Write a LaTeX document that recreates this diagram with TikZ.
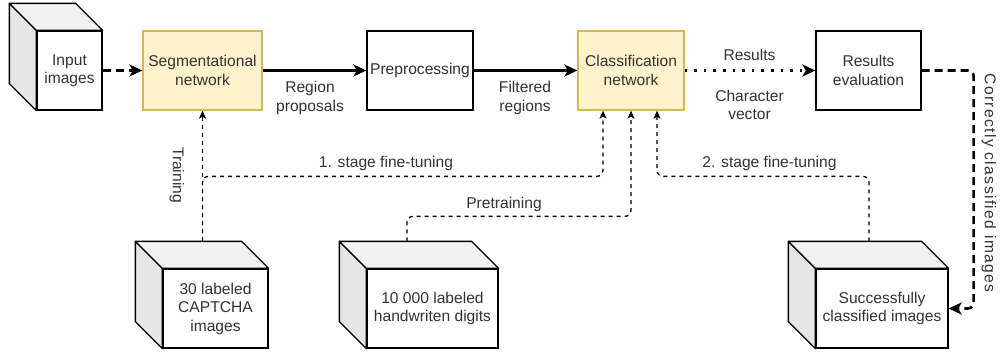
\documentclass[tikz,border=0pt]{standalone}
\usepackage{fontspec}
\setmainfont{Liberation Sans}
\usetikzlibrary{arrows.meta,calc}
\definecolor{netfill}{HTML}{FFF2CC}
\definecolor{netdraw}{HTML}{D6B656}
\definecolor{cubeside}{HTML}{E6E6E6}
\definecolor{cubetop}{HTML}{F2F2F2}
\definecolor{txt}{HTML}{333333}

\newcommand\cubefaces[1]{%
  \draw[line width=1.3pt, fill=cubeside, line join=round] (#1.north west) -- ++(-27,-27)
    -- ($(#1.south west)+(-27,-27)$) -- (#1.south west) -- cycle;
  \draw[line width=1.3pt, fill=cubetop, line join=round] (#1.north west) -- ++(-27,-27)
    -- ($(#1.north east)+(-27,-27)$) -- (#1.north east) -- cycle;
}

\begin{document}
\begin{tikzpicture}[
  x=1pt, y=-1pt,
  every node/.style = {font=\fontsize{15.6}{18.5}\selectfont, text=txt, align=center},
  block/.style = {draw, line width=1.3pt, fill=white, minimum height=79pt, inner sep=2pt},
  net/.style = {block, fill=netfill, draw=netdraw},
  flow/.style = {line width=2.6pt, -{Stealth[length=13pt,width=12pt,inset=3.5pt]}},
  feed/.style = {line width=1.3pt, dash pattern=on 4pt off 4pt, rounded corners=6pt,
                 -{Stealth[length=8pt,width=7pt,inset=2pt]}}
]
  \useasboundingbox (0,0) rectangle (1001,354);

  \node[block, minimum width=65pt] (input) at (69.5,70.5) {Input\\images};
  \node[net, minimum width=119pt] (seg) at (202.5,70.5) {Segmentational\\network};
  \node[block, minimum width=106pt] (prep) at (420,70.5) {Preprocessing};
  \node[net, minimum width=106pt] (class) at (631,70.5) {Classification\\network};
  \node[block, minimum width=105pt] (eval) at (868.5,70.5) {Results\\evaluation};
  \node[block, minimum width=105pt] (captcha) at (215.5,308.5) {30 labeled\\CAPTCHA\\images};
  \node[block, minimum width=131pt] (digits) at (432.5,308.5) {10 000 labeled\\handwriten digits};
  \node[block, minimum width=132pt] (success) at (882,308.5) {Successfully\\classified images};
  \cubefaces{input}
  \cubefaces{captcha}
  \cubefaces{digits}
  \cubefaces{success}
  \coordinate (captcha-top) at ($(captcha.north west)+(-27,-27)$);

  \draw[flow, dash pattern=on 8pt off 5pt] (input) -- (seg);
  \draw[flow] (seg) -- (prep);
  \draw[flow] (prep) -- (class);
  \draw[flow, dash pattern=on 2.6pt off 7pt] (class) -- (eval);
  \draw[flow, dash pattern=on 8pt off 5pt, rounded corners=6pt] (eval.east) -- ++(52,0) |- (success);

  \draw[feed] (seg.south |- captcha-top) -- (seg.south);
  \draw[feed] (seg.south |- captcha-top) -- ++(0,-65) -| ([xshift=-28pt]class.south);
  \draw[feed] ($(digits.north)+(-25.5,-27)$) -- ++(0,-25) -| (class.south);
  \draw[feed] ($(success.north)+(-13,-27)$) -- ++(0,-65) -| ([xshift=26pt]class.south);

  \node (l-region) at (310,98) {Region\\proposals};
  \node (l-filtered) at (525,98) {Filtered\\regions};
  \node (l-results) at (749.5,55) {Results};
  \node (l-vector) at (749.5,105) {Character\\vector};
  \node[rotate=-90] (l-correct) at (989,183) {\addfontfeature{LetterSpace=9}Correctly classified images};
  \node[rotate=-90] (l-train) at (177,175) {Training};
  \node (l-stage1) at (386,163) {1. stage fine-tuning};
  \node (l-pre) at (504,204) {Pretraining};
  \node (l-stage2) at (769.5,163) {2. stage fine-tuning};
\end{tikzpicture}
\end{document}
